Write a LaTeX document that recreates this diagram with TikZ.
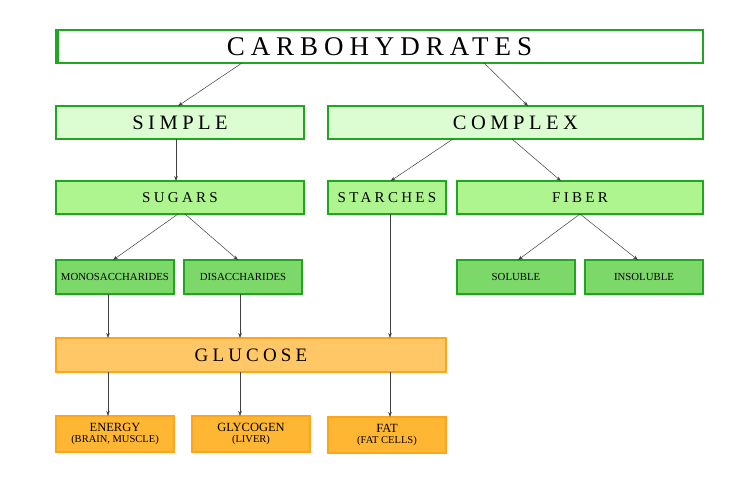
\documentclass[tikz,border=0pt]{standalone}
\usepackage{fontspec}
\setmainfont{Liberation Serif}
\newfontfamily\spaced[LetterSpace=22]{Liberation Serif}
\usetikzlibrary{arrows.meta,calc}
\definecolor{gb}{HTML}{1FA81F}
\definecolor{g1}{HTML}{DCFCD2}
\definecolor{g2}{HTML}{AEF590}
\definecolor{g3}{HTML}{7DD86A}
\definecolor{ob}{HTML}{FFA51A}
\definecolor{o1}{HTML}{FFC766}
\definecolor{o2}{HTML}{FFB733}
\begin{document}
\begin{tikzpicture}[x=1pt,y=-1pt,
  bx/.style={draw=gb,line width=1.5pt,inner sep=0pt,outer sep=0pt},
  ob/.style={draw=ob,line width=1.5pt,inner sep=0pt,outer sep=0pt,fill=o2},
  ar/.style={-{Stealth[length=5pt,width=3.5pt]},draw=black!75,line width=0.5pt}]
\useasboundingbox (0,0) rectangle (750,500);
\newcommand\bxat[6]{\node[#1,minimum width=#4-#2,minimum height=#5-#3,anchor=north west] (#6) at (#2,#3) {};}
\bxat{bx,fill=white}{56}{30}{703}{63}{carb}
\draw[gb,line width=3pt] (57,30) -- (57,63);
\node at (carb.center) {\spaced\fontsize{27}{27}\selectfont CARBOHYDRATES};
\bxat{bx,fill=g1}{56}{106}{304}{139}{simp}
\node at (simp.center) {\spaced\fontsize{20.5}{20}\selectfont SIMPLE};
\bxat{bx,fill=g1}{328}{106}{703}{139}{comp}
\node at (comp.center) {\spaced\fontsize{20.5}{20}\selectfont COMPLEX};
\bxat{bx,fill=g2}{56}{181}{304}{214}{sug}
\node at (sug.center) {\spaced\fontsize{15}{15}\selectfont SUGARS};
\bxat{bx,fill=g2}{328}{181}{446}{214}{star}
\node at (star.center) {\spaced\fontsize{15}{15}\selectfont STARCHES};
\bxat{bx,fill=g2}{457}{181}{703}{214}{fib}
\node at (fib.center) {\spaced\fontsize{15}{15}\selectfont FIBER};
\bxat{bx,fill=g3}{56}{260}{174}{294}{mono}
\node at (mono.center) {\fontsize{10.8}{11}\selectfont MONOSACCHARIDES};
\bxat{bx,fill=g3}{184}{260}{302}{294}{di}
\node at (di.center) {\fontsize{10.8}{11}\selectfont DISACCHARIDES};
\bxat{bx,fill=g3}{457}{260}{575}{294}{sol}
\node at (sol.center) {\fontsize{10.8}{11}\selectfont SOLUBLE};
\bxat{bx,fill=g3}{585}{260}{703}{294}{ins}
\node at (ins.center) {\fontsize{10.8}{11}\selectfont INSOLUBLE};
\bxat{ob,fill=o1}{56}{338}{446}{372}{glu}
\node at (glu.center) {\spaced\fontsize{19}{19}\selectfont GLUCOSE};
\bxat{ob}{56}{416}{174}{452}{en}
\node[align=center] at (en.center) {\fontsize{12.5}{13}\selectfont ENERGY\\[-1pt]\fontsize{10.5}{11}\selectfont (BRAIN, MUSCLE)};
\bxat{ob}{192}{416}{310}{452}{gly}
\node[align=center] at (gly.center) {\fontsize{12.5}{13}\selectfont GLYCOGEN\\[-1pt]\fontsize{10.5}{11}\selectfont (LIVER)};
\bxat{ob}{328}{417}{446}{453}{fat}
\node[align=center] at (fat.center) {\fontsize{12.5}{13}\selectfont FAT\\[-1pt]\fontsize{10.5}{11}\selectfont (FAT CELLS)};
% connectors
\draw[ar] ([xshift=-137.5pt]carb.south) -- ([xshift=-2pt]simp.north);
\draw[ar] ([xshift=104.5pt]carb.south) -- ([xshift=12.5pt]comp.north);
\draw[ar] ([xshift=-4pt]simp.south) -- ([xshift=-4pt]sug.north);
\draw[ar] ([xshift=-62.5pt]comp.south) -- ([xshift=3.5pt]star.north);
\draw[ar] ([xshift=-3.5pt]comp.south) -- ([xshift=-19pt]fib.north);
\draw[ar] ([xshift=-2pt]sug.south) -- ([xshift=-2pt]mono.north);
\draw[ar] ([xshift=5pt]sug.south) -- ([xshift=-5pt]di.north);
\draw[ar] (fib.south) -- ([xshift=2pt]sol.north);
\draw[ar] (fib.south) -- ([xshift=-6pt]ins.north);
\draw[ar] ([xshift=-7pt]mono.south) -- ([xshift=-143pt]glu.north);
\draw[ar] ([xshift=-3pt]di.south) -- ([xshift=-11pt]glu.north);
\draw[ar] ([xshift=3pt]star.south) -- ([xshift=139pt]glu.north);
\draw[ar] ([xshift=-143pt]glu.south) -- ([xshift=-7pt]en.north);
\draw[ar] ([xshift=-11pt]glu.south) -- ([xshift=-11pt]gly.north);
\draw[ar] ([xshift=139pt]glu.south) -- ([xshift=3pt]fat.north);
\end{tikzpicture}
\end{document}
